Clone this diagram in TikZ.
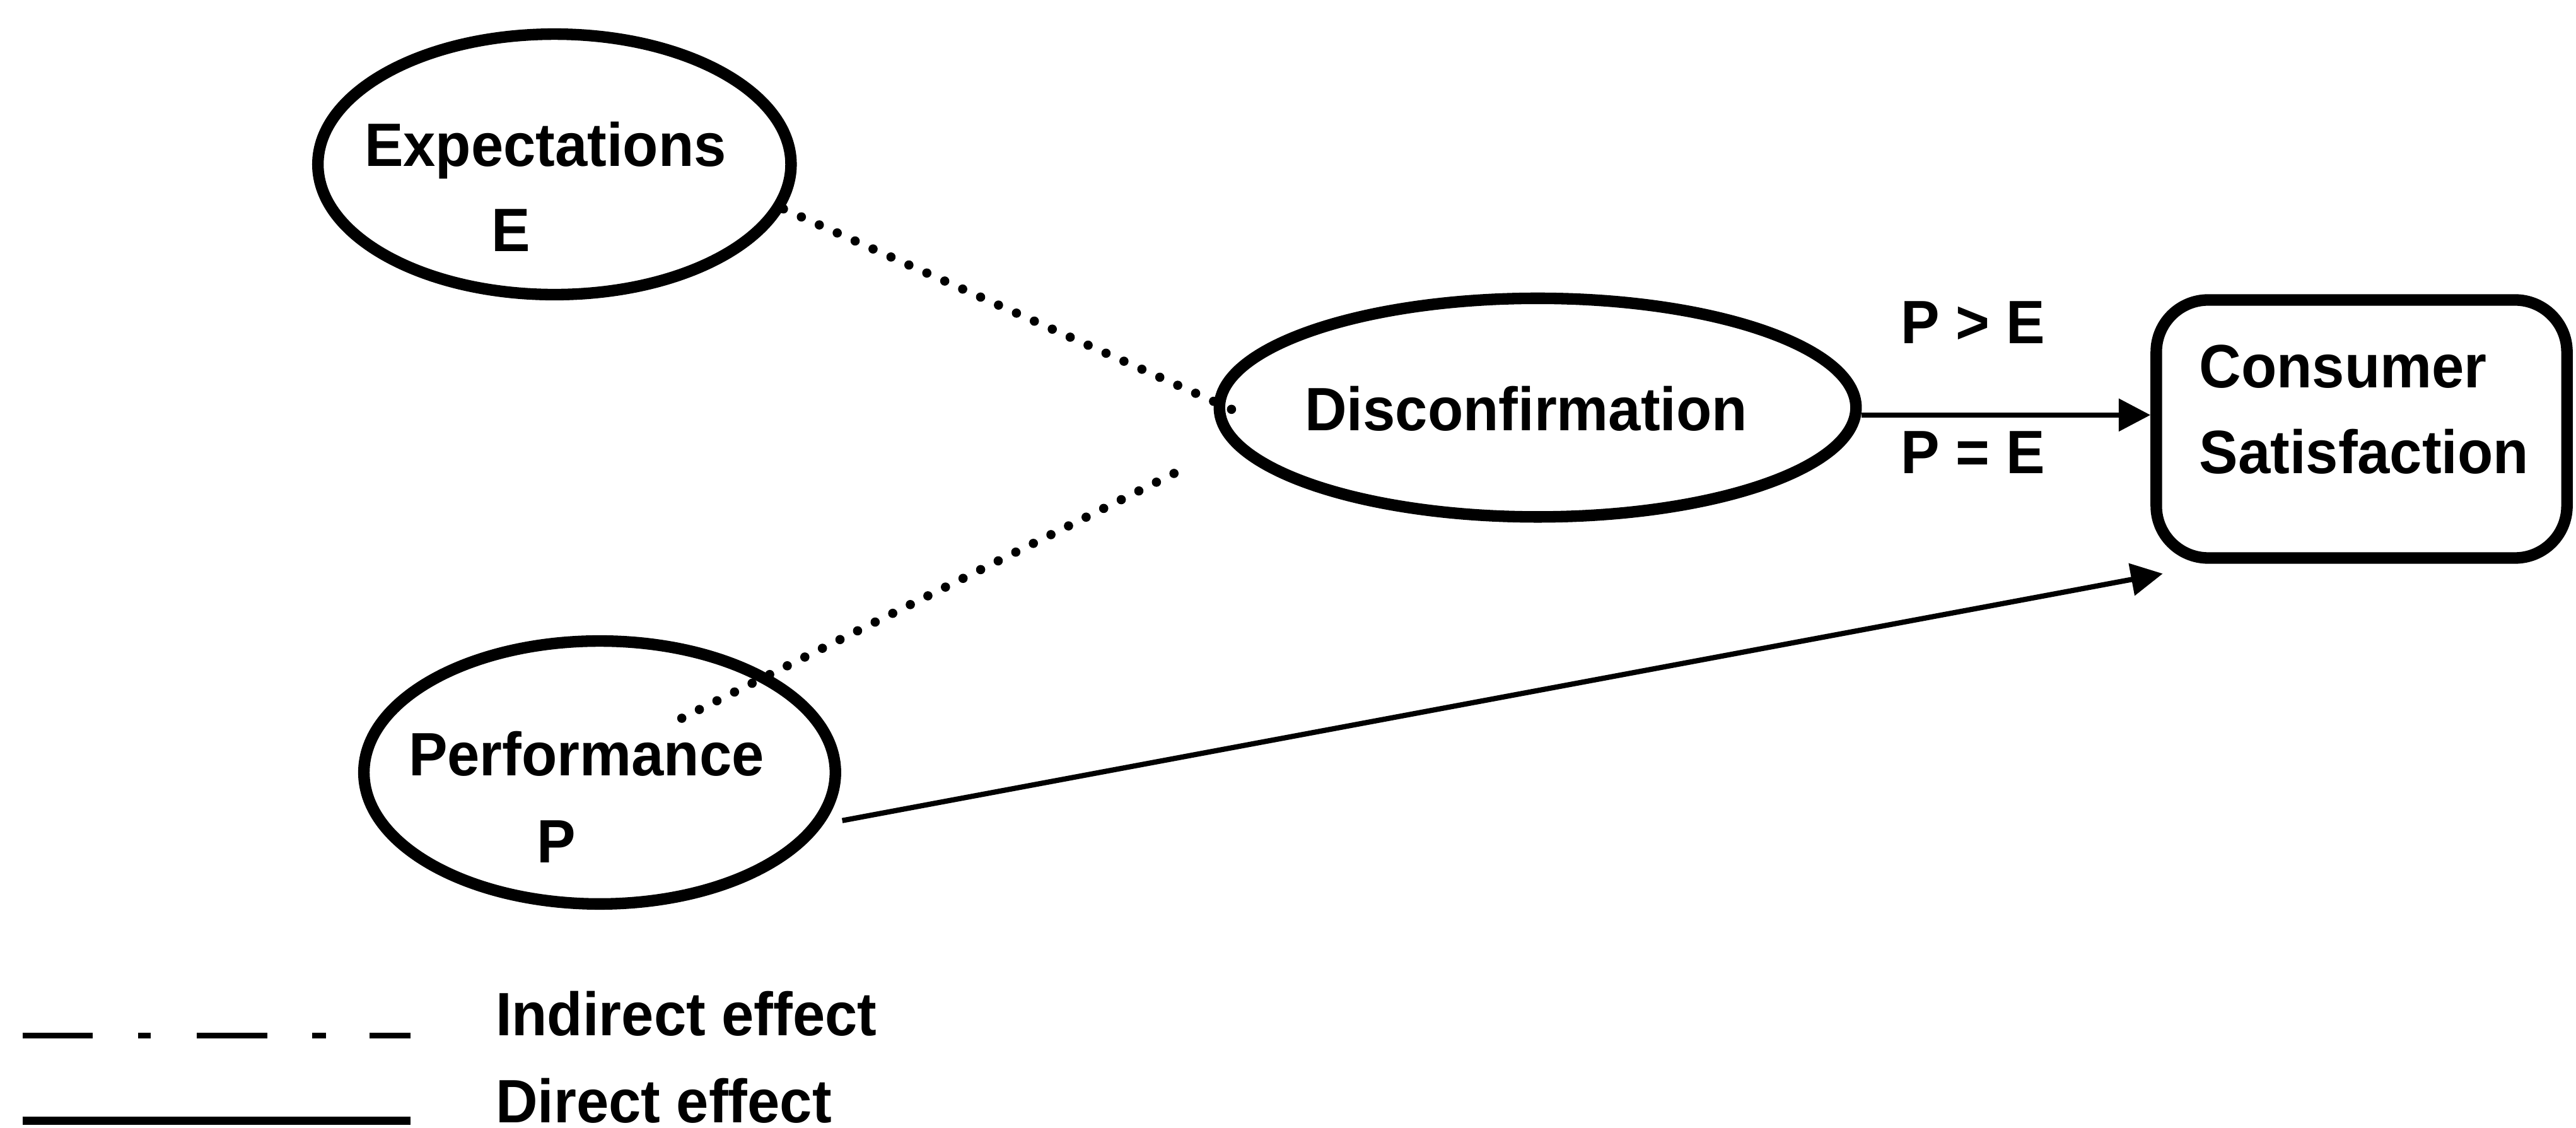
\documentclass[tikz,border=0pt]{standalone}
\usepackage{fontspec}
\setmainfont{Liberation Sans}[FakeStretch=0.95]
\usetikzlibrary{shapes.geometric,arrows.meta}

\begin{document}
\begin{tikzpicture}[x=0.1mm,y=-0.1mm,
	construct/.style={ellipse,draw,line width=2pt,inner sep=0pt},
	outcome/.style={rectangle,rounded corners=9pt,draw,line width=2pt,inner sep=0pt},
	txt/.style={font=\bfseries\fontsize{10.6}{14}\selectfont,inner sep=0pt,anchor=base},
	indirect/.style={line width=1.6pt,dash pattern=on 0pt off 3.4pt,line cap=round},
	direct/.style={line width=0.9pt,-{Triangle[length=5.5pt,width=5.5pt]}}]
	\useasboundingbox (0,0) rectangle (1568,686);
	
	% Draw the constructs
	\node[construct,minimum width=28.8mm,minimum height=15.85mm] (exp) at (337.5,100) {};
	\node[construct,minimum width=28.7mm,minimum height=16mm] (perf) at (365,470) {};
	\node[construct,minimum width=38.75mm,minimum height=13.3mm] (disc) at (936,248) {};
	\node[outcome,minimum width=25mm,minimum height=15.7mm] (cs) at (1437.5,261) {};
	
	% Label the constructs
	\node[txt] (expname) at (332,101) {Expectations};
	\node[txt] (expsym) at (311,153) {E};
	\node[txt] (perfname) at (357,472) {Performance};
	\node[txt] (perfsym) at (338.5,525) {P};
	\node[txt] (discname) at (929,262) {Disconfirmation};
	\node[txt,anchor=base west] (csname) at (1338,236) {Consumer};
	\node[txt,anchor=base west] (csname2) at (1338,288) {Satisfaction};
	
	% Draw the indirect effects
	\draw[indirect] (exp.-11) -- ([xshift=1.3mm,yshift=-0.2mm]disc.west);
	\draw[indirect] ([shift={(5mm,3.3mm)}]perf.center) -- ([shift={(-2mm,-3.8mm)}]disc.west);
	
	% Draw the direct effects
	\draw[direct] ([yshift=-0.45mm]disc.east) -- ([yshift=-0.45mm]disc.east -| cs.west);
	\draw[direct] ([xshift=1mm]perf.-12) -- ([shift={(0.75mm,-0.6mm)}]cs.south west);
	
	% Label the disconfirmation arrow
	\node[txt] (pgreater) at (1201,209) {P > E};
	\node[txt] (pequal) at (1201,288) {P = E};
	
	% Draw the legend
	\coordinate (ind1) at (13.7,630);
	\coordinate (ind2) at (250,630);
	\coordinate (dir1) at (13.7,682);
	\coordinate (dir2) at (250,682);
	\draw[line width=1pt,dash pattern=on 12.2pt off 7.8pt on 2.2pt off 8pt on 12.2pt off 7.8pt on 2.4pt off 7.5pt] (ind1) -- (ind2);
	\draw[line width=1.4pt] (dir1) -- (dir2);
	\node[txt,anchor=base west] (indlabel) at (301,630) {Indirect effect};
	\node[txt,anchor=base west] (dirlabel) at (301,683) {Direct effect};
\end{tikzpicture}
\end{document}
